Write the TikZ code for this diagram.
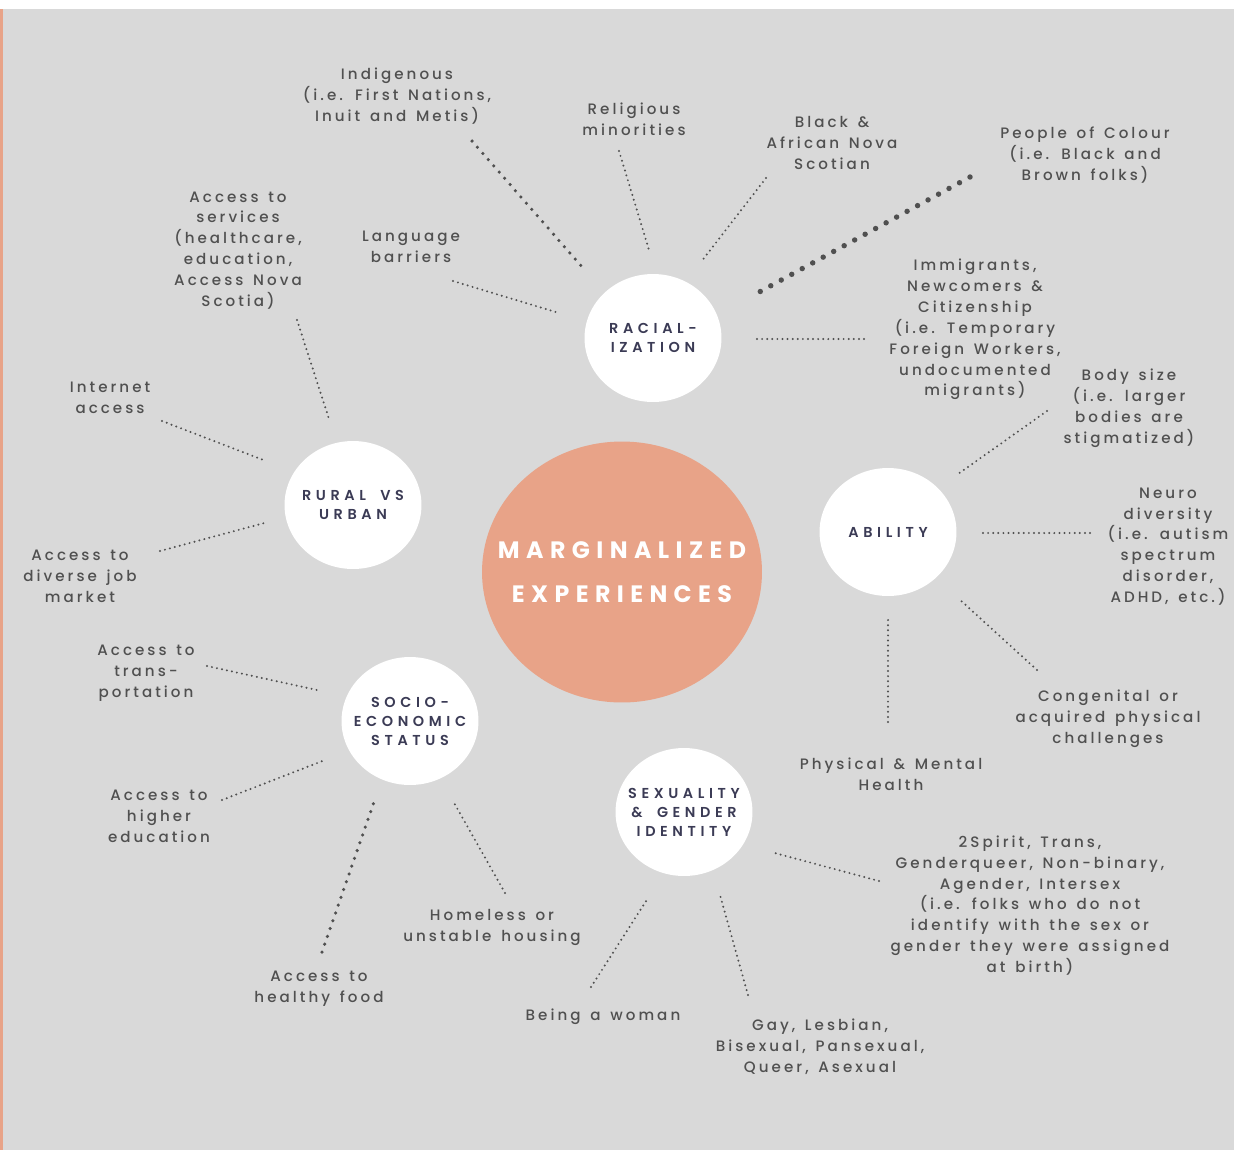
\documentclass[tikz,border=0pt]{standalone}
\usepackage{fontspec}
\setmainfont{Poppins}[LetterSpace=20, WordSpace=1.4, UprightFont={Poppins Medium}, BoldFont={Poppins SemiBold}]
\newfontfamily\hubfont{Poppins}[LetterSpace=27]
\newfontfamily\topicfont{Poppins SemiBold}[LetterSpace=32, WordSpace=1.8]
\usetikzlibrary{shapes, calc}

\definecolor{salmon}{HTML}{E8A388}
\definecolor{paper}{HTML}{D9D9D9}
\definecolor{ink}{HTML}{505050}
\definecolor{slate}{HTML}{3B3B55}

\tikzset{
  hubtext/.style={text=white, align=center, font=\hubfont\fontsize{13.5}{25}\selectfont\bfseries},
  topictext/.style={text=slate, align=center, font=\topicfont\fontsize{8.2}{10.8}\selectfont},
  hub/.style={ellipse, fill=salmon, minimum width=5.6cm, minimum height=5.22cm, label={[hubtext]center:#1}},
  topic/.style={ellipse, fill=white, minimum width=2.74cm, minimum height=2.56cm, label={[topictext]center:#1}},
  lbl/.style={inner sep=0pt, text=ink, align=center, font=\fontsize{8.6}{11.9}\selectfont},
  fine/.style={draw=ink, line width=1.25pt, line cap=round, dash pattern=on 0pt off 2.9pt},
  mid/.style={draw=ink, line width=2pt, line cap=round, dash pattern=on 0pt off 4.7pt},
  big/.style={draw=ink, line width=3.1pt, line cap=round, dash pattern=on 0pt off 6.8pt}
}

\begin{document}
\begin{tikzpicture}[x=0.02cm, y=-0.02cm]
  \useasboundingbox (0,0) rectangle (1234,1150);
  \fill[white] (0,0) rectangle (1234,1150);
  \fill[paper] (3,9) rectangle (1234,1150);
  \fill[salmon] (0,9) rectangle (3,1150);

  % centre and the five themes
  \node[hub={MARGINALIZED\\EXPERIENCES}] (center) at (622,572) {};
  \node[topic={RACIAL-\\IZATION}] (racial) at (653,338) {};
  \node[topic={RURAL VS\\URBAN}] (rural) at (353,505) {};
  \node[topic={ABILITY}] (ability) at (888,532) {};
  \node[topic={SOCIO-\\ECONOMIC\\STATUS}] (socio) at (410,721) {};
  \node[topic={SEXUALITY\\\& GENDER\\IDENTITY}] (gender) at (684,812) {};

  % racialization
  \node[lbl] (indig) at (397,96) {Indigenous\\(i.e. First Nations,\\Inuit and Metis)};
  \node[lbl] (relig) at (634,119.5) {Religious\\minorities};
  \node[lbl] (black) at (832,143) {Black \&\\African Nova\\Scotian};
  \node[lbl] (poc) at (1085,155) {People of Colour\\(i.e. Black and\\Brown folks)};
  \node[lbl] (lang) at (411,246.5) {Language\\barriers};
  \node[lbl] (immig) at (975,329.5) {Immigrants,\\Newcomers \&\\Citizenship\\(i.e. Temporary\\Foreign Workers,\\undocumented\\migrants)};

  % rural vs urban
  \node[lbl] (services) at (238,250.5) {Access to\\services\\(healthcare,\\education,\\Access Nova\\Scotia)};
  \node[lbl] (internet) at (110,397.5) {Internet\\access};
  \node[lbl] (job) at (80,576) {Access to\\diverse job\\market};

  % socio-economic status
  \node[lbl] (transp) at (146,673) {Access to\\trans-\\portation};
  \node[lbl] (higher) at (159,816) {Access to\\higher\\education};
  \node[lbl] (food) at (319,988.5) {Access to\\healthy food};
  \node[lbl] (homeless) at (492,927.5) {Homeless or\\unstable housing};

  % ability
  \node[lbl] (body) at (1129,408.5) {Body size\\(i.e. larger\\bodies are\\stigmatized)};
  \node[lbl] (neuro) at (1168,546.5) {Neuro\\diversity\\(i.e. autism\\spectrum\\disorder,\\ADHD, etc.)};
  \node[lbl] (congen) at (1108,719) {Congenital or\\acquired physical\\challenges};
  \node[lbl] (health) at (891,774.5) {Physical \& Mental\\Health};

  % sexuality and gender identity
  \node[lbl] (spirit) at (1030,905.5) {2Spirit, Trans,\\Genderqueer, Non-binary,\\Agender, Intersex\\(i.e. folks who do not\\identify with the sex or\\gender they were assigned\\at birth)};
  \node[lbl] (woman) at (603,1017) {Being a woman};
  \node[lbl] (gay) at (820,1047) {Gay, Lesbian,\\Bisexual, Pansexual,\\Queer, Asexual};

  % dotted spokes
  \foreach \n/\xo/\yo/\xi/\yi/\s in {
      indig/472/141/583/268/mid, relig/619/151/649/250/fine,
      black/766/178/701/262/fine, poc/970/177/752/296/big,
      lang/453/281/559/313/fine, immig/864/339/752/339/fine,
      services/297/320/329/419/fine, internet/162/421/266/461/fine,
      job/160/551/268/522/fine, transp/207/666/317/690/fine,
      higher/222/800/325/760/fine, food/322/952/374/802/mid,
      homeless/505/893/453/801/fine, body/1047/411/958/474/fine,
      neuro/1090/533/978/533/fine, congen/1037/670/958/598/fine,
      health/888/722/888/618/fine, spirit/879/881/771/852/fine,
      woman/591/987/648/898/fine, gay/748/995/720/895/fine} {
    \coordinate (\n-out) at (\xo,\yo);
    \coordinate (\n-hub) at (\xi,\yi);
    \draw[\s] (\n-out) -- (\n-hub);
  }
\end{tikzpicture}
\end{document}
